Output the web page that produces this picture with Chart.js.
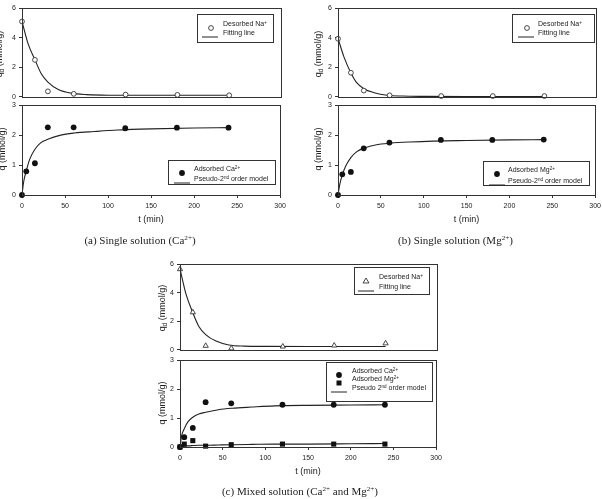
<!DOCTYPE html>
<html>
<head>
<meta charset="utf-8">
<script src="https://cdn.jsdelivr.net/npm/chart.js@4.4.0/dist/chart.umd.min.js"></script>
<style>
  body { margin: 0; width: 602px; height: 499px; position: relative; overflow: hidden; background: #fff;
         font-family: "Liberation Sans", Arial, sans-serif; color: #222; }
  canvas { position: absolute; }
  .legend { position: absolute; border: 1px solid #333; background: #fff; box-sizing: border-box; }
  .ltext { position: absolute; font-size: 7px; line-height: 8px; white-space: nowrap; color: #222;
           will-change: transform; transform: translateZ(0); }
  .mark { position: absolute; }
  .ytitle { position: absolute; font-size: 9px; line-height: 10px; white-space: nowrap;
            transform: translate(-50%, -50%) rotate(-90deg); }
  .cap { position: absolute; font-family: "Liberation Serif", "Times New Roman", serif; font-size: 11px;
         line-height: 14px; white-space: nowrap; transform: translateX(-50%); }
  sup { font-size: 0.65em; vertical-align: 0.5em; line-height: 0; }
  sub { font-size: 0.7em; vertical-align: -0.25em; line-height: 0; }
</style>
</head>
<body>
<script>
// sampling times (min)
const tDes = [0, 15, 30, 60, 120, 180, 240];
const tAds = [0, 5, 15, 30, 60, 120, 180, 240];
const tFitDes = [0, 7, 15, 22, 30, 42, 57, 75, 100, 150, 200, 240];
const tFitAds = [0, 2, 5, 9, 15, 22, 30, 45, 61, 84, 111, 150, 200, 240];

// (a) single Ca solution
const naA = [5.1, 2.5, 0.37, 0.2, 0.15, 0.13, 0.1];
const naFitA = [5.1, 3.6, 2.5, 1.6, 1.0, 0.5, 0.25, 0.15, 0.11, 0.1, 0.1, 0.1];
const caA = [0, 0.79, 1.06, 2.26, 2.26, 2.23, 2.25, 2.25];
const caFitA = [0, 0.45, 0.81, 1.2, 1.53, 1.75, 1.86, 2.0, 2.07, 2.12, 2.17, 2.21, 2.24, 2.25];

// (b) single Mg solution
const naB = [3.93, 1.63, 0.42, 0.1, 0.05, 0.05, 0.05];
const naFitB = [3.96, 2.69, 1.62, 0.94, 0.55, 0.28, 0.1, 0.05, 0.03, 0.02, 0.02, 0.02];
const mgB = [0, 0.69, 0.77, 1.56, 1.75, 1.84, 1.84, 1.85];
const mgFitB = [0, 0.35, 0.67, 0.97, 1.25, 1.45, 1.56, 1.68, 1.73, 1.77, 1.8, 1.82, 1.84, 1.85];

// (c) mixed solution
const naC = [5.65, 2.63, 0.28, 0.1, 0.23, 0.3, 0.45];
const naFitC = [5.67, 3.9, 2.59, 1.64, 1.07, 0.61, 0.34, 0.26, 0.24, 0.23, 0.23, 0.23];
const caC = [0, 0.34, 0.66, 1.55, 1.51, 1.46, 1.46, 1.46];
const caFitC = [0, 0.4, 0.63, 0.86, 1.03, 1.14, 1.2, 1.29, 1.34, 1.38, 1.42, 1.44, 1.45, 1.46];
const mgC = [0, 0.1, 0.22, 0.03, 0.08, 0.1, 0.1, 0.1];
const mgFitC = [0, 0.01, 0.03, 0.04, 0.05, 0.06, 0.06, 0.07, 0.08, 0.09, 0.1, 0.1, 0.11, 0.12];

const xTicks = [0, 50, 100, 150, 200, 250, 300];

Chart.defaults.font.family = '"Liberation Sans", Arial, sans-serif';
Chart.defaults.color = '#222';

const pts = (xs, ys) => xs.map((x, i) => ({ x: x, y: ys[i] }));

const openCircle = { pointStyle: 'circle', pointRadius: 2.4, pointBackgroundColor: '#fff', pointBorderColor: '#333', pointBorderWidth: 0.9 };
const dot = { pointStyle: 'circle', pointRadius: 2.9, pointBackgroundColor: '#111', pointBorderColor: '#111', pointBorderWidth: 0 };
const square = { pointStyle: 'rect', pointRadius: 3.6, pointBackgroundColor: '#111', pointBorderColor: '#111', pointBorderWidth: 0 };
const triangle = { pointStyle: 'triangle', pointRadius: 3, pointBackgroundColor: '#fff', pointBorderColor: '#333', pointBorderWidth: 0.9 };

const markers = (xs, ys, style) => Object.assign({ data: pts(xs, ys), showLine: false, clip: false, pointHoverRadius: 0 }, style);
const fit = (xs, ys) => ({
  data: pts(xs, ys), showLine: true, pointRadius: 0, borderColor: '#222', borderWidth: 1.1,
  cubicInterpolationMode: 'monotone', clip: false
});

// frame around the plot area
const frame = {
  id: 'frame',
  afterDraw(chart) {
    const { ctx, chartArea: a } = chart;
    ctx.save();
    ctx.strokeStyle = '#333';
    ctx.lineWidth = 1;
    ctx.strokeRect(Math.round(a.left) + 0.5, Math.round(a.top) + 0.5,
      Math.round(a.right - a.left), Math.round(a.bottom - a.top));
    ctx.restore();
  }
};

const makeChart = (p) => {
  const pad = 6, padR = 9, W = 20, XH = 30;
  const left = p.L - W;
  const top = p.T - pad;
  const width = W + (p.R - p.L) + padR;
  const height = pad + (p.B - p.T) + (p.xLabels ? XH : pad);
  const canvas = document.createElement('canvas');
  canvas.width = width;
  canvas.height = height;
  canvas.style.left = left + 'px';
  canvas.style.top = top + 'px';
  document.body.appendChild(canvas);

  const x = p.xLabels ? {
    type: 'linear', min: 0, max: 300,
    afterBuildTicks: (s) => { s.ticks = xTicks.map(v => ({ value: v })); },
    ticks: { font: { size: 7 }, padding: 4, maxRotation: 0, autoSkip: false },
    grid: { drawOnChartArea: false, tickLength: 3, color: '#333' },
    border: { display: false },
    title: { display: true, text: 't (min)', font: { size: 9 }, padding: 0 },
    afterFit: (s) => { s.height = XH; }
  } : { type: 'linear', min: 0, max: 300, display: false };

  new Chart(canvas, {
    type: 'scatter',
    data: { datasets: p.datasets },
    options: {
      responsive: false,
      animation: false,
      events: [],
      layout: { padding: { left: 0, top: pad, right: padR, bottom: p.xLabels ? 0 : pad } },
      plugins: { legend: { display: false }, tooltip: { enabled: false } },
      scales: {
        x: x,
        y: {
          min: 0, max: p.yMax,
          ticks: { stepSize: p.yStep, font: { size: 7 }, padding: 3 },
          grid: { drawOnChartArea: false, tickLength: 3, color: '#333' },
          border: { display: false },
          afterFit: (s) => { s.width = W; }
        }
      }
    },
    plugins: [frame]
  });
};

const addLegend = (box, rows) => {
  const b = document.createElement('div');
  b.className = 'legend';
  b.style.left = box[0] + 'px';
  b.style.top = box[1] + 'px';
  b.style.width = (box[2] - box[0]) + 'px';
  b.style.height = (box[3] - box[1]) + 'px';
  document.body.appendChild(b);
  rows.forEach((r) => {
    const shapes = {
      open: '<circle cx="10" cy="5" r="2.4" fill="#fff" stroke="#333" stroke-width="0.9"/>',
      dot: '<circle cx="10" cy="5" r="2.9" fill="#111"/>',
      square: '<rect x="7.5" y="2.5" width="5" height="5" fill="#111"/>',
      tri: '<polygon points="10,2 13,7 7,7" fill="#fff" stroke="#333" stroke-width="0.9"/>',
      line: '<line x1="2" y1="5" x2="18" y2="5" stroke="#222" stroke-width="1"/>'
    };
    const m = document.createElement('div');
    m.className = 'mark';
    m.style.left = (r.mx - 10) + 'px';
    m.style.top = (r.y - 5) + 'px';
    m.innerHTML = '<svg width="20" height="10">' + shapes[r.m] + '</svg>';
    document.body.appendChild(m);
    const t = document.createElement('div');
    t.className = 'ltext';
    t.style.left = r.tx + 'px';
    t.style.top = (r.y - 4) + 'px';
    t.innerHTML = r.text;
    document.body.appendChild(t);
  });
};

const addText = (cls, x, y, html) => {
  const d = document.createElement('div');
  d.className = cls;
  d.style.left = x + 'px';
  d.style.top = y + 'px';
  d.innerHTML = html;
  document.body.appendChild(d);
};

// (a)
makeChart({ L: 22, R: 281, T: 7, B: 98, yMax: 6, yStep: 2, xLabels: false,
  datasets: [markers(tDes, naA, openCircle), fit(tFitDes, naFitA)] });
makeChart({ L: 22, R: 281, T: 104, B: 195, yMax: 3, yStep: 1, xLabels: true,
  datasets: [markers(tAds, caA, dot), fit(tFitAds, caFitA)] });
// (b)
makeChart({ L: 338, R: 596, T: 7, B: 98, yMax: 6, yStep: 2, xLabels: false,
  datasets: [markers(tDes, naB, openCircle), fit(tFitDes, naFitB)] });
makeChart({ L: 338, R: 596, T: 104, B: 195, yMax: 3, yStep: 1, xLabels: true,
  datasets: [markers(tAds, mgB, dot), fit(tFitAds, mgFitB)] });
// (c)
makeChart({ L: 180, R: 437, T: 263, B: 351, yMax: 6, yStep: 2, xLabels: false,
  datasets: [markers(tDes, naC, triangle), fit(tFitDes, naFitC)] });
makeChart({ L: 180, R: 437, T: 359, B: 447, yMax: 3, yStep: 1, xLabels: true,
  datasets: [markers(tAds, caC, dot), markers(tAds, mgC, square), fit(tFitAds, caFitC), fit(tFitAds, mgFitC)] });

// axis titles
addText('ytitle', -1, 54, 'q<sub>d</sub> (mmol/g)');
addText('ytitle', 1.5, 149, 'q (mmol/g)');
addText('ytitle', 318, 54, 'q<sub>d</sub> (mmol/g)');
addText('ytitle', 318, 149, 'q (mmol/g)');
addText('ytitle', 162, 308, 'q<sub>d</sub> (mmol/g)');
addText('ytitle', 162, 403, 'q (mmol/g)');

// legends
addLegend([197, 14, 274, 43], [
  { m: 'open', mx: 210.7, y: 24.3, tx: 223.3, text: 'Desorbed Na<sup>+</sup>' },
  { m: 'line', mx: 210, y: 33.3, tx: 223.3, text: 'Fitting line' }
]);
addLegend([168, 160, 276, 185], [
  { m: 'dot', mx: 181.7, y: 169, tx: 194.3, text: 'Adsorbed Ca<sup>2+</sup>' },
  { m: 'line', mx: 182, y: 179.3, tx: 194.3, text: 'Pseudo-2<sup>nd</sup> order model' }
]);
addLegend([512, 14, 595, 43], [
  { m: 'open', mx: 526.7, y: 24, tx: 538.3, text: 'Desorbed Na<sup>+</sup>' },
  { m: 'line', mx: 526, y: 33, tx: 538.3, text: 'Fitting line' }
]);
addLegend([483, 160.5, 590, 185.5], [
  { m: 'dot', mx: 496.7, y: 170, tx: 508.3, text: 'Adsorbed Mg<sup>2+</sup>' },
  { m: 'line', mx: 496.5, y: 181, tx: 508.3, text: 'Pseudo-2<sup>nd</sup> order model' }
]);
addLegend([354, 267, 430, 295], [
  { m: 'tri', mx: 366, y: 276.7, tx: 379.3, text: 'Desorbed Na<sup>+</sup>' },
  { m: 'line', mx: 366.3, y: 286.7, tx: 379.3, text: 'Fitting line' }
]);
addLegend([326, 361.5, 433, 401.5], [
  { m: 'dot', mx: 339.3, y: 370.7, tx: 351.7, text: 'Adsorbed Ca<sup>2+</sup>' },
  { m: 'square', mx: 339.3, y: 379.3, tx: 351.7, text: 'Adsorbed Mg<sup>2+</sup>' },
  { m: 'line', mx: 339.2, y: 388.3, tx: 351.7, text: 'Pseudo 2<sup>nd</sup> order model' }
]);

// captions
addText('cap', 140, 233, '(a) Single solution (Ca<sup>2+</sup>)');
addText('cap', 455.5, 233, '(b) Single solution (Mg<sup>2+</sup>)');
addText('cap', 300, 484, '(c) Mixed solution (Ca<sup>2+</sup> and Mg<sup>2+</sup>)');
</script>
</body>
</html>
